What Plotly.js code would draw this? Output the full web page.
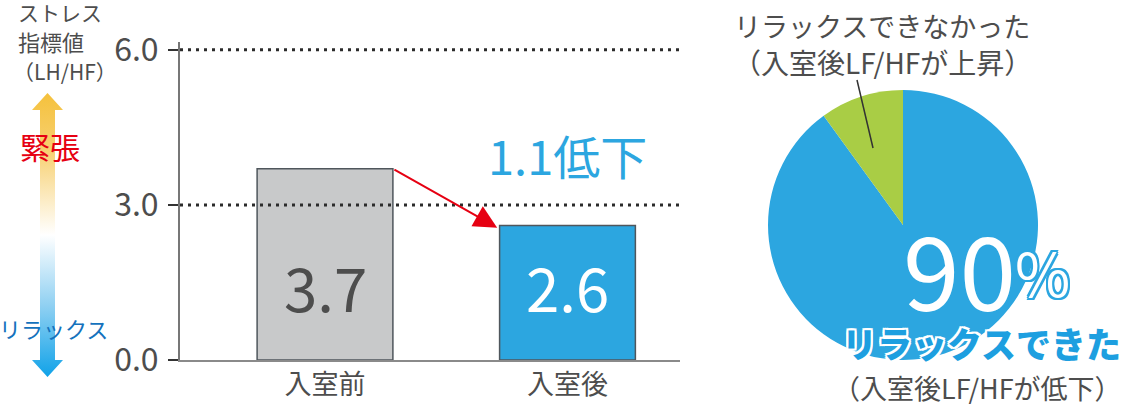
<!DOCTYPE html>
<html>
<head>
<meta charset="utf-8">
<script src="https://cdn.plot.ly/plotly-3.0.1.min.js"></script>
<style>html,body{margin:0;padding:0;background:#fff;}</style>
</head>
<body>
<div id="myChart" style="width:1125px;height:408px;"></div>
<script>
// bar chart data
const CATEGORIES = ['入室前', '入室後'];
const STRESS_VALUES = [3.7, 2.6];
const Y_TICKS = [0, 3, 6];
const REF_LINES = [3, 6];

// pie data
const PIE_LABELS = ['リラックスできた', 'リラックスできなかった'];
const PIE_VALUES = [90, 10];

const FONT = '"Noto Sans CJK JP", "Noto Sans", sans-serif';
const GRAY_TEXT = '#4d4d4d';
const BLUE = '#2ca6e0';
const BAR_WIDTH = 0.56;

function make_chart(){
    const bars = {
        type: 'bar',
        x: CATEGORIES,
        y: STRESS_VALUES,
        width: BAR_WIDTH,
        marker: {
            color: ['#c8c9ca', BLUE],
            line: { color: '#4f565c', width: 1.5 }
        },
        hoverinfo: 'skip',
        xaxis: 'x',
        yaxis: 'y'
    };

    const pie = {
        type: 'pie',
        labels: PIE_LABELS,
        values: PIE_VALUES,
        sort: false,
        direction: 'clockwise',
        rotation: 0,
        textinfo: 'none',
        hoverinfo: 'skip',
        marker: { colors: [BLUE, '#a9cd45'], line: { width: 0 } },
        domain: { x: [768 / 1125, 1038 / 1125], y: [48 / 408, 318 / 408] }
    };

    // dotted reference lines
    const shapes = REF_LINES.map(v => ({
        type: 'line', xref: 'x domain', yref: 'y',
        x0: 0, x1: 1, y0: v, y1: v,
        line: { color: '#2b2b2b', width: 3, dash: '3px,5px' }
    }));
    // leader line for the small slice
    shapes.push({
        type: 'line', xref: 'paper', yref: 'paper',
        x0: 857 / 1125, y0: 1 - 80 / 408, x1: 873 / 1125, y1: 1 - 148 / 408,
        line: { color: '#333333', width: 1.5 }
    });

    const annotations = [];

    // value labels inside the bars
    STRESS_VALUES.forEach((v, i) => {
        annotations.push({
            x: CATEGORIES[i], y: 1.45, xref: 'x', yref: 'y',
            text: v.toFixed(1), showarrow: false,
            font: { family: FONT, size: 60, color: i === 0 ? GRAY_TEXT : '#ffffff' }
        });
    });

    // red arrow from bar 1 top to bar 2 top
    annotations.push({
        x: 1 - BAR_WIDTH / 2 - 0.01, y: STRESS_VALUES[1] - 0.04,
        ax: BAR_WIDTH / 2, ay: STRESS_VALUES[0],
        xref: 'x', yref: 'y', axref: 'x', ayref: 'y',
        text: '', showarrow: true,
        arrowhead: 2, arrowsize: 2.3, arrowwidth: 2, arrowcolor: '#e60012', standoff: 0
    });

    const drop = (STRESS_VALUES[0] - STRESS_VALUES[1]).toFixed(1);
    annotations.push({
        x: CATEGORIES[1], y: 3.97, xref: 'x', yref: 'y',
        text: drop + '低下', showarrow: false,
        font: { family: FONT, size: 47, color: BLUE }
    });

    // left side labels
    const leftLabels = [
        ['ストレス', 16, 12, GRAY_TEXT, 21, 'left'],
        ['指標値', 16, 41, GRAY_TEXT, 22, 'left'],
        ['（LH/HF）', 11, 71, GRAY_TEXT, 21, 'left'],
        ['緊張', 50, 146, '#e60012', 30, 'center'],
        ['リラックス', 53, 328, '#1472bd', 22, 'center']
    ];
    leftLabels.forEach(l => {
        annotations.push({
            x: l[1] / 1125, y: 1 - l[2] / 408,
            xref: 'paper', yref: 'paper', showarrow: false,
            xanchor: l[5], yanchor: 'middle',
            text: l[0],
            font: { family: FONT, size: l[4], color: l[3] }
        });
    });

    // pie labels
    const pct = Math.round(PIE_VALUES[0] / (PIE_VALUES[0] + PIE_VALUES[1]) * 100);
    annotations.push({
        x: 1018 / 1125, y: 1 - 266 / 408, xref: 'paper', yref: 'paper',
        xanchor: 'right', yanchor: 'middle', showarrow: false,
        text: String(pct),
        font: { family: FONT, size: 102, color: '#ffffff' }
    });
    annotations.push({
        x: 1013 / 1125, y: 1 - 270 / 408, xref: 'paper', yref: 'paper',
        xanchor: 'left', yanchor: 'middle', showarrow: false,
        text: '%',
        font: {
            family: FONT, size: 60, color: '#ffffff',
            shadow: '2px 0 0 ' + BLUE + ', -2px 0 0 ' + BLUE + ', 0 2px 0 ' + BLUE + ', 0 -2px 0 ' + BLUE +
                ', 2px 2px 0 ' + BLUE + ', -2px -2px 0 ' + BLUE + ', 2px -2px 0 ' + BLUE + ', -2px 2px 0 ' + BLUE
        }
    });
    annotations.push({
        x: 1123 / 1125, y: 1 - 342 / 408, xref: 'paper', yref: 'paper',
        xanchor: 'right', yanchor: 'middle', showarrow: false,
        text: PIE_LABELS[0],
        font: {
            family: FONT, size: 35, weight: 900, color: '#1d9fe0',
            shadow: '2px 0 0 #fff, -2px 0 0 #fff, 0 2px 0 #fff, 0 -2px 0 #fff, 2px 2px 0 #fff, -2px -2px 0 #fff, 2px -2px 0 #fff, -2px 2px 0 #fff'
        }
    });
    annotations.push({
        x: 1124 / 1125, y: 1 - 387 / 408, xref: 'paper', yref: 'paper',
        xanchor: 'right', yanchor: 'middle', showarrow: false,
        text: '（入室後LF/HFが低下）',
        font: { family: FONT, size: 27, color: GRAY_TEXT }
    });
    annotations.push({
        x: 882 / 1125, y: 1 - 25 / 408, xref: 'paper', yref: 'paper',
        xanchor: 'center', yanchor: 'middle', showarrow: false,
        text: PIE_LABELS[1],
        font: { family: FONT, size: 27, color: GRAY_TEXT }
    });
    annotations.push({
        x: 882 / 1125, y: 1 - 62 / 408, xref: 'paper', yref: 'paper',
        xanchor: 'center', yanchor: 'middle', showarrow: false,
        text: '（入室後LF/HFが上昇）',
        font: { family: FONT, size: 28, color: GRAY_TEXT }
    });

    // gradient double arrow (tension / relax)
    const svg = '<svg xmlns="http://www.w3.org/2000/svg" width="31" height="284" viewBox="0 0 31 284">' +
        '<defs><linearGradient id="g" x1="0" y1="0" x2="0" y2="1">' +
        '<stop offset="0" stop-color="#f5c13c"/><stop offset="0.2" stop-color="#f7d070"/>' +
        '<stop offset="0.5" stop-color="#ffffff"/><stop offset="0.75" stop-color="#8fd0f2"/>' +
        '<stop offset="1" stop-color="#10a2e8"/></linearGradient></defs>' +
        '<polygon fill="url(#g)" points="15.5,0 31,17 23,17 23,267 31,267 15.5,284 0,267 8,267 8,17 0,17"/></svg>';

    const layout = {
        width: 1125,
        height: 408,
        margin: { t: 0, b: 0, l: 0, r: 0 },
        paper_bgcolor: '#ffffff',
        plot_bgcolor: 'rgba(0,0,0,0)',
        showlegend: false,
        xaxis: {
            type: 'category',
            domain: [180 / 1125, 680 / 1125],
            range: [-0.598, 1.464],
            showline: true, linecolor: '#8a8a8a', linewidth: 2,
            ticks: '', showgrid: false, zeroline: false,
            tickfont: { family: FONT, size: 27, color: GRAY_TEXT },
            fixedrange: true
        },
        yaxis: {
            domain: [48 / 408, (408 - 42) / 408],
            range: [0, 6.15],
            tickvals: Y_TICKS,
            ticktext: Y_TICKS.map(v => v.toFixed(1)),
            ticks: 'outside', ticklen: 10, tickwidth: 2, tickcolor: '#333333',
            ticklabelstandoff: 3,
            showline: true, linecolor: '#777777', linewidth: 2,
            showgrid: false, zeroline: false,
            tickfont: { family: FONT, size: 32, color: GRAY_TEXT },
            fixedrange: true
        },
        shapes: shapes,
        annotations: annotations,
        images: [{
            source: 'data:image/svg+xml;charset=utf-8,' + encodeURIComponent(svg),
            xref: 'paper', yref: 'paper',
            x: 32 / 1125, y: 1 - 93 / 408,
            sizex: 31 / 1125, sizey: 284 / 408,
            xanchor: 'left', yanchor: 'top',
            sizing: 'stretch', layer: 'below'
        }]
    };

    return [[bars, pie], layout];
}

let hi = make_chart();
Plotly.newPlot('myChart', hi[0], hi[1], { displayModeBar: false, staticPlot: true });
</script>
</body>
</html>
